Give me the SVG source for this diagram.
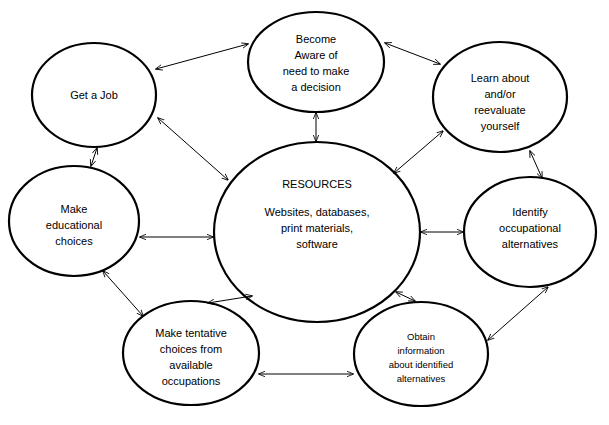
<svg xmlns="http://www.w3.org/2000/svg" width="609" height="425" viewBox="0 0 609 425">
<style>
ellipse{fill:#fff;stroke:#000;stroke-width:2.2}
text{font-family:"Liberation Sans",Arial,sans-serif;font-size:11px;fill:#000;text-anchor:middle}
.c line{stroke:#000;stroke-width:1;marker-start:url(#a);marker-end:url(#a)}
</style>
<defs><marker id="a" viewBox="0 0 10 10" refX="9" refY="5" markerWidth="7" markerHeight="7" orient="auto-start-reverse"><path d="M0,1 L10,5 L0,9" fill="none" stroke="#000" stroke-width="1.2"/></marker></defs>
<rect width="609" height="425" fill="#fff"/>
<g id="aware"><ellipse cx="316" cy="62" rx="68" ry="50"/><text x="316" y="43">Become</text><text x="316" y="59">Aware of</text><text x="316" y="75">need to make</text><text x="316" y="91">a decision</text></g>
<g id="job"><ellipse cx="94" cy="95" rx="62" ry="52"/><text x="94" y="99">Get a Job</text></g>
<g id="learn"><ellipse cx="500" cy="97" rx="67" ry="55"/><text x="500" y="82">Learn about</text><text x="500" y="98">and/or</text><text x="500" y="114">reevaluate</text><text x="500" y="130">yourself</text></g>
<g id="resources"><ellipse cx="317" cy="232" rx="103" ry="90"/><text x="317" y="188">RESOURCES</text><text x="317" y="216">Websites, databases,</text><text x="317" y="232">print materials,</text><text x="317" y="248">software</text></g>
<g id="edu"><ellipse cx="74" cy="221" rx="65" ry="55"/><text x="74" y="213">Make</text><text x="74" y="229">educational</text><text x="74" y="245">choices</text></g>
<g id="identify"><ellipse cx="530" cy="232" rx="66" ry="55"/><text x="530" y="216">Identify</text><text x="530" y="232">occupational</text><text x="530" y="248">alternatives</text></g>
<g id="tentative"><ellipse cx="191" cy="353" rx="68" ry="52"/><text x="191" y="337">Make tentative</text><text x="191" y="353">choices from</text><text x="191" y="369">available</text><text x="191" y="385">occupations</text></g>
<g id="obtain"><ellipse cx="421" cy="354" rx="67" ry="52"/><text x="421" y="340" style="font-size:9.5px">Obtain</text><text x="421" y="354" style="font-size:9.5px">information</text><text x="421" y="368" style="font-size:9.5px">about identified</text><text x="421" y="382" style="font-size:9.5px">alternatives</text></g>
<g class="c">
<line x1="156" y1="69" x2="248" y2="44"/>
<line x1="385" y1="43" x2="440" y2="64"/>
<line x1="316" y1="113" x2="316" y2="141"/>
<line x1="158" y1="118" x2="228" y2="180"/>
<line x1="443" y1="131" x2="394" y2="173"/>
<line x1="530" y1="151" x2="542" y2="178"/>
<line x1="97" y1="148" x2="91" y2="166"/>
<line x1="140" y1="237" x2="213" y2="237"/>
<line x1="421" y1="232" x2="463" y2="232"/>
<line x1="103" y1="271" x2="143" y2="316"/>
<line x1="252" y1="296" x2="208" y2="303"/>
<line x1="396" y1="292" x2="415" y2="301"/>
<line x1="548" y1="287" x2="488" y2="340"/>
<line x1="259" y1="374" x2="353" y2="374"/>
</g>
</svg>
